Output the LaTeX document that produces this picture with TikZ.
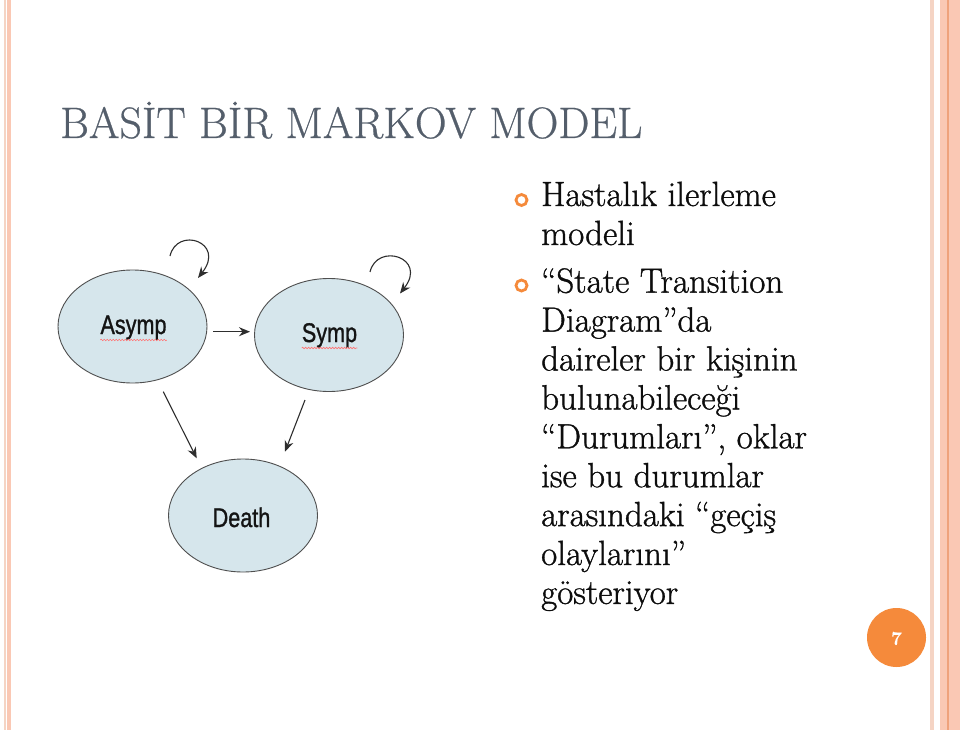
\documentclass[tikz,border=0pt]{standalone}
\usepackage{fontspec}
\usepackage{graphicx}
\newfontfamily\diagfont{Liberation Sans}[FakeBold=1.2]
\newfontfamily\slidefont{Latin Modern Roman}[FakeBold=0.6]
\newfontfamily\bodyfont{Latin Modern Roman}[FakeBold=1.0]
\usetikzlibrary{shapes.geometric,arrows.meta,decorations.pathmorphing,calc}
\definecolor{stripeLight}{HTML}{F5D4C4}
\definecolor{stripePink}{HTML}{FAC8B4}
\definecolor{stripeDark}{HTML}{EFA27C}
\definecolor{titleGray}{HTML}{545E6B}
\definecolor{accent}{HTML}{F58A3B}
\definecolor{stateFill}{HTML}{D6E6EC}
\definecolor{stateLine}{HTML}{4F4F4F}
\definecolor{arrowGray}{HTML}{2E2E2E}
\tikzset{
  statebox/.style={ellipse, draw=stateLine, fill=stateFill, line width=0.9pt,
    minimum width=149pt, minimum height=113pt, inner sep=0pt, outer sep=0pt},
  statelabel/.style={inner sep=0pt, anchor=base, text=black!92,
    font=\diagfont\fontsize{27}{27}\selectfont},
  arr/.style={draw=arrowGray, line width=1.1pt,
    -{Stealth[length=11pt,width=9pt]}},
  bodyline/.style={inner sep=0pt, anchor=base west, text=black!95,
    font=\bodyfont\fontsize{35}{39}\selectfont},
  bulletring/.style={circle, draw=accent, line width=2.8pt, minimum size=11pt, inner sep=0pt},
  squiggle/.style={draw=red!55!white, line width=0.6pt,
    decorate, decoration={snake, amplitude=0.8pt, segment length=3pt}}
}
\begin{document}
\begin{tikzpicture}[x=1pt,y=-1pt]
\useasboundingbox (0,0) rectangle (960,730);
\fill[white] (0,0) rectangle (960,730);
% page border stripes
\fill[stripeLight] (4,0) rectangle (6.3,730);
\fill[stripePink] (7,0) rectangle (11,730);
\fill[stripeLight] (930,0) rectangle (934,730);
\fill[stripePink] (940,0) rectangle (960,730);
\fill[stripeDark] (947,0) rectangle (948.6,730);

% title
\node[inner sep=0pt, anchor=base west, text=titleGray,
  font=\slidefont\fontsize{44}{44}\selectfont] (title) at (60,138)
  {BASİT BİR MARKOV MODEL};

% states
\node[statebox] (asymp) at (132.5,326.5) {};
\node[statebox] (symp) at (329,335) {};
\node[statebox] (death) at (243,515.5) {};
\node[statelabel] (asympT) at (133.5,334) {\scalebox{0.8}[1]{Asymp}};
\node[statelabel] (sympT) at (329.5,342) {\scalebox{0.8}[1]{Symp}};
\node[statelabel] (deathT) at (241.5,527) {\scalebox{0.8}[1]{Death}};
\draw[squiggle] ([yshift=-6pt]asympT.base west) -- ([yshift=-6pt]asympT.base east);
\draw[squiggle] ([yshift=-6pt]sympT.base west) -- ([yshift=-6pt]sympT.base east);

% transitions
\draw[arr] ([shift={(6,5.2)}]asymp.east) -- ([shift={(-4.5,-3.3)}]symp.west);
\draw[arr] ([shift={(30.8,8.7)}]asymp.south) -- ([shift={(-46.3,-0.7)}]death.north);
\draw[arr] ([shift={(-24,8.5)}]symp.south) -- ([shift={(42,-7.3)}]death.north);
\draw[arr] ([shift={(37.5,-14)}]asymp.north) .. controls +(7,-30) and +(28,-36) .. ([shift={(65.5,8)}]asymp.north);
\draw[arr] ([shift={(41,-6.5)}]symp.north) .. controls +(7,-30) and +(28,-36) .. ([shift={(71,15)}]symp.north);

% bullets
\node[bulletring] (b1) at (521.5,200) {};
\node[bulletring] (b2) at (521.5,285.5) {};

% body text
\node[bodyline] (l1) at (541,206) {Hastalık ilerleme};
\node[bodyline] (l2) at (541,245) {modeli};
\node[bodyline] (l3) at (541,292.7) {“State Transition};
\node[bodyline] (l4) at (541,331.6) {Diagram”da};
\node[bodyline] (l5) at (541,370.5) {daireler bir kişinin};
\node[bodyline] (l6) at (541,409.4) {bulunabileceği};
\node[bodyline] (l7) at (541,448.3) {“Durumları”, oklar};
\node[bodyline] (l8) at (541,487.2) {ise bu durumlar};
\node[bodyline] (l9) at (541,526.1) {arasındaki “geçiş};
\node[bodyline] (l10) at (541,565) {olaylarını”};
\node[bodyline] (l11) at (541,603.9) {gösteriyor};

% page number
\node[circle, fill=accent, minimum size=59pt, inner sep=0pt] (pagenum) at (896.5,637.5) {};
\node[text=white, inner sep=0pt, font=\slidefont\bfseries\fontsize{19}{19}\selectfont] (pagenumT) at (896.5,638.5) {7};
\end{tikzpicture}
\end{document}
